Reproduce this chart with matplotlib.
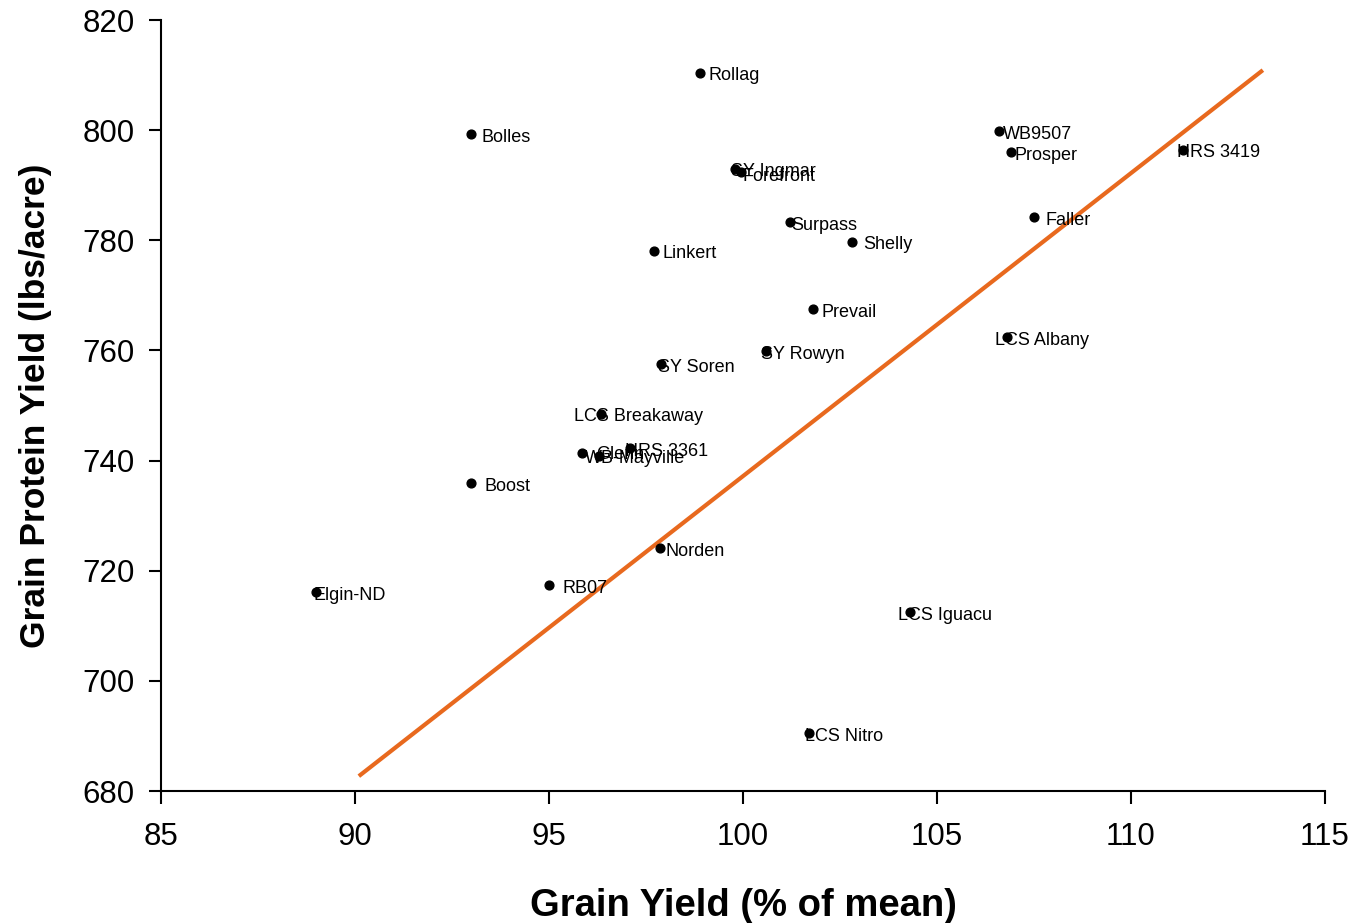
import matplotlib
matplotlib.use("Agg")
import matplotlib.pyplot as plt

plt.rcParams['font.family'] = ['Liberation Sans', 'DejaVu Sans']

# Variety data: grain yield (% of mean) vs grain protein yield (lbs/acre)
varieties = ["Rollag", "Bolles", "WB9507", "Prosper", "HRS 3419", "SY Ingmar",
             "Forefront", "Surpass", "Faller", "Shelly", "Linkert", "Prevail",
             "LCS Albany", "SY Rowyn", "SY Soren", "LCS Breakaway", "HRS 3361",
             "Glenn", "WB-Mayville", "Boost", "Norden", "RB07", "Elgin-ND",
             "LCS Iguacu", "LCS Nitro"]
grain_yield = [98.9, 93.0, 106.6, 106.9, 111.35, 99.8,
               99.95, 101.2, 107.5, 102.8, 97.7, 101.8,
               106.8, 100.6, 97.9, 96.35, 97.1,
               96.3, 95.85, 93.0, 97.85, 95.0, 89.0,
               104.3, 101.7]
protein_yield = [810.4, 799.3, 799.8, 796.0, 796.4, 793.0,
                 792.4, 783.3, 784.2, 779.7, 778.1, 767.5,
                 762.4, 759.9, 757.5, 748.5, 742.2,
                 740.9, 741.3, 735.9, 724.1, 717.4, 716.1,
                 712.5, 690.5]

# trend line end points
trend_x = [90.1, 113.4]
trend_y = [682.7, 810.9]

# label offsets in pixels (dx right, dy down)
label_dx = {"Rollag": 8, "Bolles": 10, "WB9507": 4, "Prosper": 4, "HRS 3419": -6,
            "SY Ingmar": -4, "Forefront": 1, "Surpass": 2, "Faller": 12, "Shelly": 12,
            "Linkert": 9, "Prevail": 9, "LCS Albany": -12, "SY Rowyn": -5,
            "SY Soren": -3, "LCS Breakaway": -27, "HRS 3361": -5, "Glenn": -3,
            "WB-Mayville": 3, "Boost": 13, "Norden": 6, "RB07": 14, "Elgin-ND": -3,
            "LCS Iguacu": -12, "LCS Nitro": -4}
label_dy = {"WB-Mayville": 5, "Forefront": 4, "Glenn": -1}

fig = plt.figure(figsize=(13.56, 9.23), dpi=100)
ax = fig.add_axes([0.1187, 0.143, 0.8584, 0.8353])

ax.plot(trend_x, trend_y, color='#E8691E', linewidth=3, solid_capstyle='butt', zorder=1)
ax.scatter(grain_yield, protein_yield, s=40, color='black', zorder=3)

for name, x, y in zip(varieties, grain_yield, protein_yield):
    dx = label_dx.get(name, 8) * 0.72
    dy = -label_dy.get(name, 3) * 0.72
    ax.annotate(name, (x, y), xytext=(dx, dy), textcoords='offset points',
                ha='left', va='center', fontsize=13, color='black', zorder=4)

ax.set_xlim(85, 115)
ax.set_ylim(680, 820)
ax.set_xticks(range(85, 116, 5))
ax.set_yticks(range(680, 821, 20))

for side in ['top', 'right']:
    ax.spines[side].set_visible(False)
for side in ['left', 'bottom']:
    ax.spines[side].set_linewidth(1.5)

ax.tick_params(direction='out', length=9, width=1.5, labelsize=22.5)
ax.tick_params(axis='x', pad=13)
ax.tick_params(axis='y', pad=10)

ax.set_xlabel('Grain Yield (% of mean)', fontsize=27.5, fontweight='bold', labelpad=26)
ax.set_ylabel('Grain Protein Yield (lbs/acre)', fontsize=25.5, fontweight='bold', labelpad=22)

fig.savefig('out.png', dpi=100)
